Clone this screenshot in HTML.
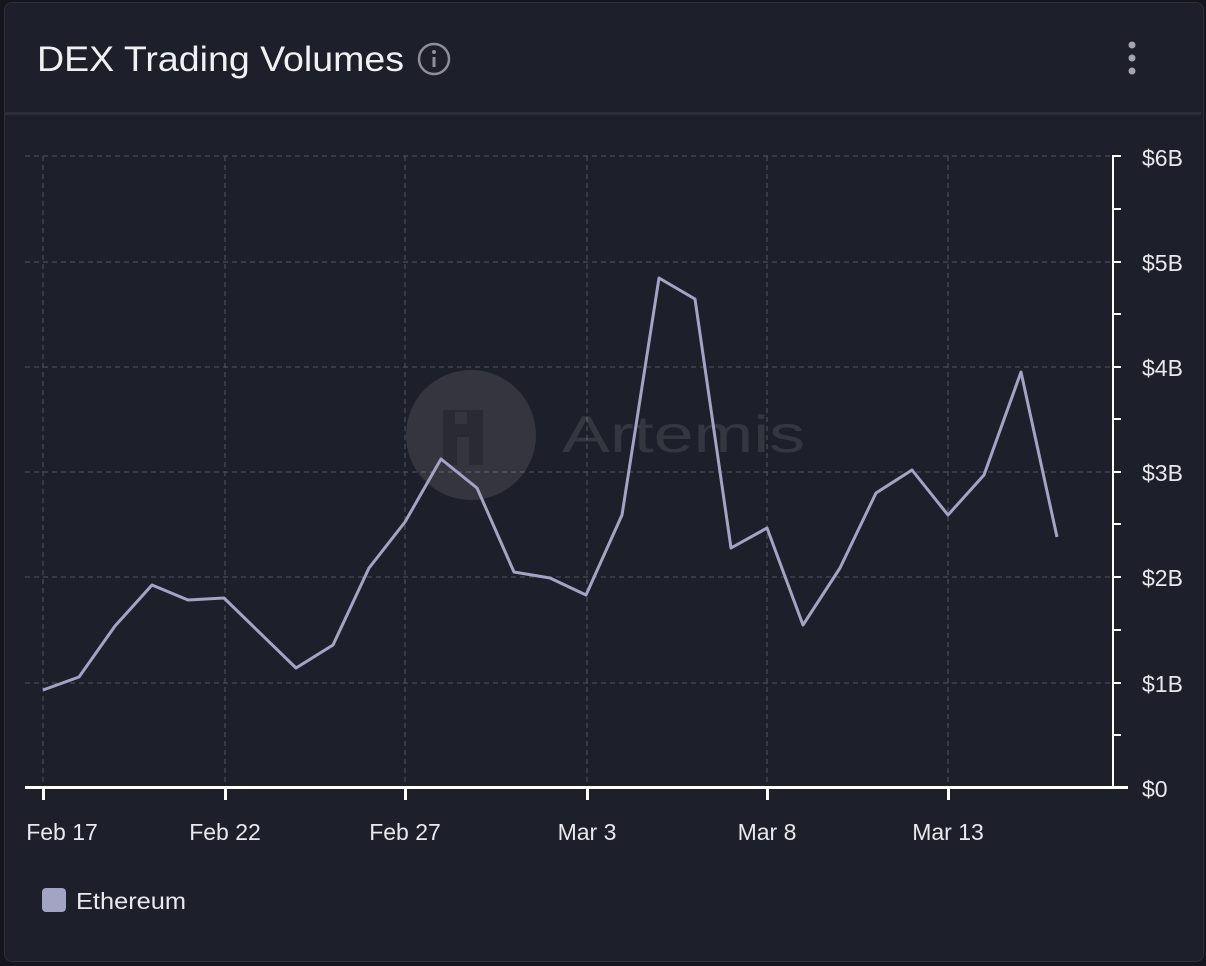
<!DOCTYPE html>
<html><head><style>
html,body{margin:0;padding:0;background:#15161d;width:1206px;height:966px;overflow:hidden}
.card{position:absolute;left:4px;top:2px;width:1198px;height:958px;background:#1d1f2a;border:1px solid #2e303b;border-radius:8px}
</style></head><body>
<div class="card"></div>
<svg width="1206" height="966" style="position:absolute;left:0;top:0" font-family="Liberation Sans, sans-serif">
<text x="37" y="71" font-size="35" fill="#f1f1f4" textLength="367" lengthAdjust="spacingAndGlyphs">DEX Trading Volumes</text>
<circle cx="434" cy="59" r="15" fill="none" stroke="#8e8f98" stroke-width="2.5"/>
<circle cx="434" cy="52" r="2" fill="#8e8f98"/>
<rect x="432.5" y="57" width="3" height="10" fill="#8e8f98"/>
<circle cx="1132" cy="45" r="3.5" fill="#a4a5ad"/><circle cx="1132" cy="58" r="3.5" fill="#a4a5ad"/><circle cx="1132" cy="71" r="3.5" fill="#a4a5ad"/>
<rect x="5" y="112" width="1196" height="3" fill="#2c2e39"/>
<g stroke="#4a4c58" stroke-width="1.2" stroke-dasharray="5,4">
<line x1="25" y1="156" x2="1112" y2="156"/><line x1="25" y1="262" x2="1112" y2="262"/><line x1="25" y1="367" x2="1112" y2="367"/><line x1="25" y1="472" x2="1112" y2="472"/><line x1="25" y1="577" x2="1112" y2="577"/><line x1="25" y1="683" x2="1112" y2="683"/>
<line x1="43" y1="156" x2="43" y2="788"/><line x1="225" y1="156" x2="225" y2="788"/><line x1="405" y1="156" x2="405" y2="788"/><line x1="587" y1="156" x2="587" y2="788"/><line x1="767" y1="156" x2="767" y2="788"/><line x1="948" y1="156" x2="948" y2="788"/>
</g>
<circle cx="471" cy="435" r="65" fill="#ffffff" opacity="0.1"/>
<path d="M443 410h40v55h-14v-28h-12v28h-14z M455 412v12h12v-12z" fill="#1d1f2a" opacity="0.5"/>
<text x="562" y="452" font-size="52" fill="#ffffff" opacity="0.1" textLength="243" lengthAdjust="spacingAndGlyphs">Artemis</text>
<polyline fill="none" stroke="#a3a4c4" stroke-width="3" stroke-linejoin="round" points="43,690 79,677 115,626 152,585 188,600 224,598 260,633 296,668 333,645 369,568 405,522 441,459 477,488 514,572 550,578 586,595 622,515 659,278 695,299 731,548 767,528 803,625 840,568 876,493 912,470 948,515 984,475 1021,372 1057,537"/>
<rect x="1112" y="156" width="2" height="633" fill="#fff"/>
<g fill="#fff">
<rect x="1112" y="155" width="9" height="2"/><rect x="1112" y="208" width="9" height="2"/><rect x="1112" y="261" width="9" height="2"/><rect x="1112" y="313" width="9" height="2"/><rect x="1112" y="366" width="9" height="2"/><rect x="1112" y="418" width="9" height="2"/><rect x="1112" y="471" width="9" height="2"/><rect x="1112" y="523" width="9" height="2"/><rect x="1112" y="576" width="9" height="2"/><rect x="1112" y="629" width="9" height="2"/><rect x="1112" y="682" width="9" height="2"/><rect x="1112" y="734" width="9" height="2"/>
<rect x="25" y="786" width="1103" height="3"/>
<rect x="42" y="788" width="3" height="12"/><rect x="224" y="788" width="3" height="12"/><rect x="404" y="788" width="3" height="12"/><rect x="586" y="788" width="3" height="12"/><rect x="766" y="788" width="3" height="12"/><rect x="947" y="788" width="3" height="12"/>
</g>
<g font-size="23" fill="#e8e8ee">
<text x="1142" y="166">$6B</text><text x="1142" y="271">$5B</text><text x="1142" y="376">$4B</text><text x="1142" y="481">$3B</text><text x="1142" y="586">$2B</text><text x="1142" y="692">$1B</text><text x="1142" y="797">$0</text>
</g>
<g font-size="23" fill="#e8e8ee" text-anchor="middle">
<text x="62" y="840">Feb 17</text><text x="225" y="840">Feb 22</text><text x="405" y="840">Feb 27</text><text x="587" y="840">Mar 3</text><text x="767" y="840">Mar 8</text><text x="948" y="840">Mar 13</text>
</g>
<rect x="42" y="888" width="24" height="24" rx="4" fill="#a3a4c4"/>
<text x="76" y="909" font-size="23" fill="#e8e8ee" textLength="110" lengthAdjust="spacingAndGlyphs">Ethereum</text>
</svg>
</body></html>
